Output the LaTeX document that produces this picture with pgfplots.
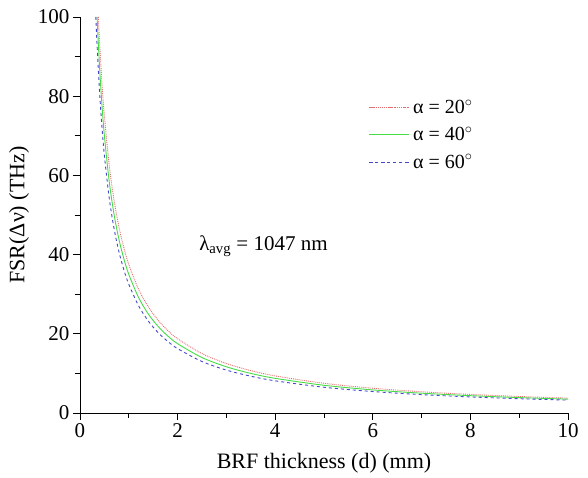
\documentclass[border=0pt]{standalone}
\usepackage{pgfplots}
\pgfplotsset{compat=1.18}
\usepackage{fontspec}
\setmainfont{Liberation Serif}
\definecolor{cred}{RGB}{230,110,110}
\definecolor{cgreen}{RGB}{70,220,70}
\definecolor{cblue}{RGB}{70,70,205}
\begin{document}
\begin{tikzpicture}
\begin{axis}[
  scale only axis, width=488pt, height=396pt,
  xmin=0, xmax=10, ymin=0, ymax=100,
  axis lines=left, axis line style={-, line width=0.9pt},
  xtick={0,2,...,10}, ytick={0,20,...,100},
  minor xtick={1,3,...,9}, minor ytick={10,30,...,90},
  tick align=outside, tick style={black, line width=0.9pt},
  major tick length=7pt, minor tick length=5pt,
  tick label style={font=\fontsize{21}{24}\selectfont},
  /pgf/number format/assume math mode=true,
  xlabel={BRF thickness (d) (mm)}, ylabel={FSR(Δν) (THz)},
  label style={font=\fontsize{22}{26}\selectfont},
  xlabel style={at={(axis description cs:0.5,0)}, anchor=base, yshift=-56pt},
  ylabel style={at={(axis description cs:-0.125,0.5)}, anchor=center},
  legend style={draw=none, fill=none, at={(axis cs:5.85,80.2)}, anchor=north west, font=\fontsize{20}{23}\selectfont, row sep=8pt},
  legend image post style={xscale=2.3, line width=1.1pt},
  legend cell align=left,
  clip=true,
]
\addplot[cred, densely dotted, line width=0.9pt, smooth] coordinates {
(0.375,100) (0.4,93.75) (0.45,83.33) (0.5,75) (0.6,62.5) (0.7,53.57) (0.8,46.88) (0.9,41.67) (1.0,37.5) (1.2,31.25) (1.4,26.79) (1.6,23.44) (1.8,20.83) (2.0,18.75) (2.5,15) (3,12.5) (3.5,10.71) (4,9.375) (5,7.5) (6,6.25) (7,5.36) (8,4.69) (9,4.17) (10,3.75)};
\addlegendentry{\hspace{2pt}α = 20\textsuperscript{$\circ$}}
\addplot[cgreen, solid, line width=0.9pt, smooth] coordinates {
(0.35,100) (0.4,87.5) (0.45,77.78) (0.5,70) (0.6,58.33) (0.7,50) (0.8,43.75) (0.9,38.89) (1.0,35) (1.2,29.17) (1.4,25) (1.6,21.88) (1.8,19.44) (2.0,17.5) (2.5,14) (3,11.67) (3.5,10) (4,8.75) (5,7) (6,5.83) (7,5) (8,4.375) (9,3.89) (10,3.5)};
\addlegendentry{\hspace{2pt}α = 40\textsuperscript{$\circ$}}
\addplot[cblue, dashed, line width=0.9pt, smooth] coordinates {
(0.325,100) (0.35,92.86) (0.4,81.25) (0.45,72.22) (0.5,65) (0.6,54.17) (0.7,46.43) (0.8,40.63) (0.9,36.11) (1.0,32.5) (1.2,27.08) (1.4,23.21) (1.6,20.31) (1.8,18.06) (2.0,16.25) (2.5,13) (3,10.83) (3.5,9.29) (4,8.125) (5,6.5) (6,5.42) (7,4.64) (8,4.06) (9,3.61) (10,3.25)};
\addlegendentry{\hspace{2pt}α = 60\textsuperscript{$\circ$}}
\node[anchor=base west, inner sep=0pt, font=\fontsize{21}{24}\selectfont] at (axis cs:2.44,41) {λ\textsubscript{avg} = 1047 nm};
\end{axis}
\useasboundingbox ([xshift=-80pt,yshift=-62pt]current axis.south west) rectangle ([xshift=20pt,yshift=17pt]current axis.north east);
\end{tikzpicture}
\end{document}
